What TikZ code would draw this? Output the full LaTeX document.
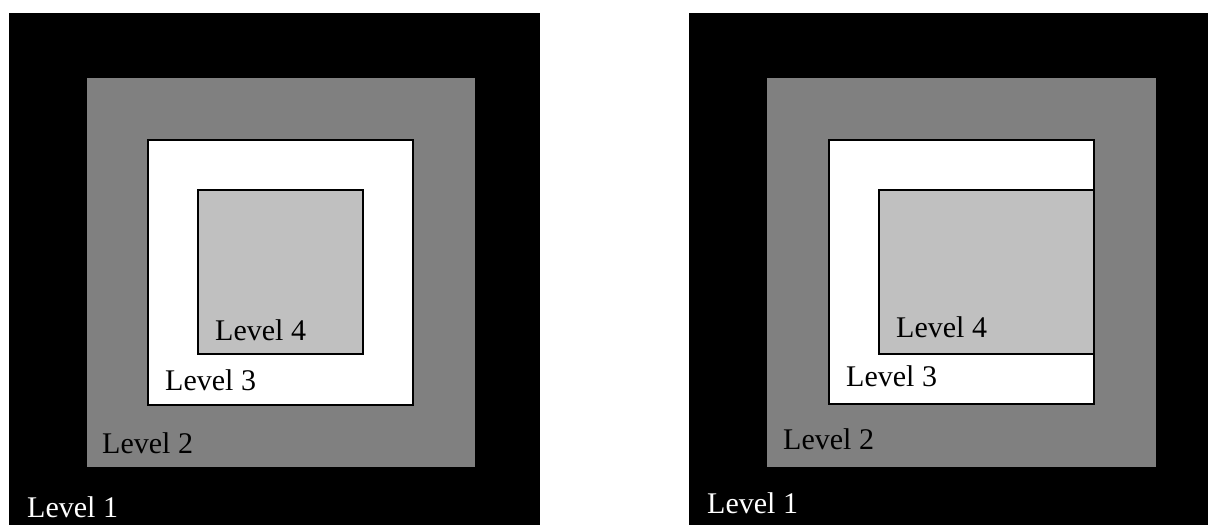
\documentclass[tikz,border=0pt]{standalone}
\usepackage{fontspec}
\setmainfont{Liberation Serif}
\usetikzlibrary{positioning}

\definecolor{midgray}{RGB}{128,128,128}
\definecolor{lightgray}{RGB}{192,192,192}

\begin{document}
\begin{tikzpicture}[
    x=1pt, y=-1pt,
    level/.style={inner sep=0pt, anchor=base west, font=\fontsize{30}{35}\selectfont},
    box/.style={draw=black, line width=1.6pt}
]
\useasboundingbox (0,0) rectangle (1208,525);

% left panel: nested squares
\fill[black] (9,13) rectangle (540,525);
\fill[midgray] (87,78) rectangle (475,467);
\filldraw[box, fill=white] (148,140) rectangle (413,405);
\filldraw[box, fill=lightgray] (198,190) rectangle (363,354);

\node[level, text=white] (l1a) at (27,517) {Level 1};
\node[level] (l2a) at (102,453) {Level 2};
\node[level] (l3a) at (165,390) {Level 3};
\node[level] (l4a) at (215,340) {Level 4};

% right panel: level 4 touches level 3 edge
\fill[black] (689,13) rectangle (1208,525);
\fill[midgray] (767,78) rectangle (1156,467);
\filldraw[box, fill=white] (829,140) rectangle (1094,404);
\filldraw[box, fill=lightgray] (879,190) rectangle (1094,354);

\node[level, text=white] (l1b) at (707,513) {Level 1};
\node[level] (l2b) at (783,449) {Level 2};
\node[level] (l3b) at (846,386) {Level 3};
\node[level] (l4b) at (896,337) {Level 4};

\end{tikzpicture}
\end{document}
